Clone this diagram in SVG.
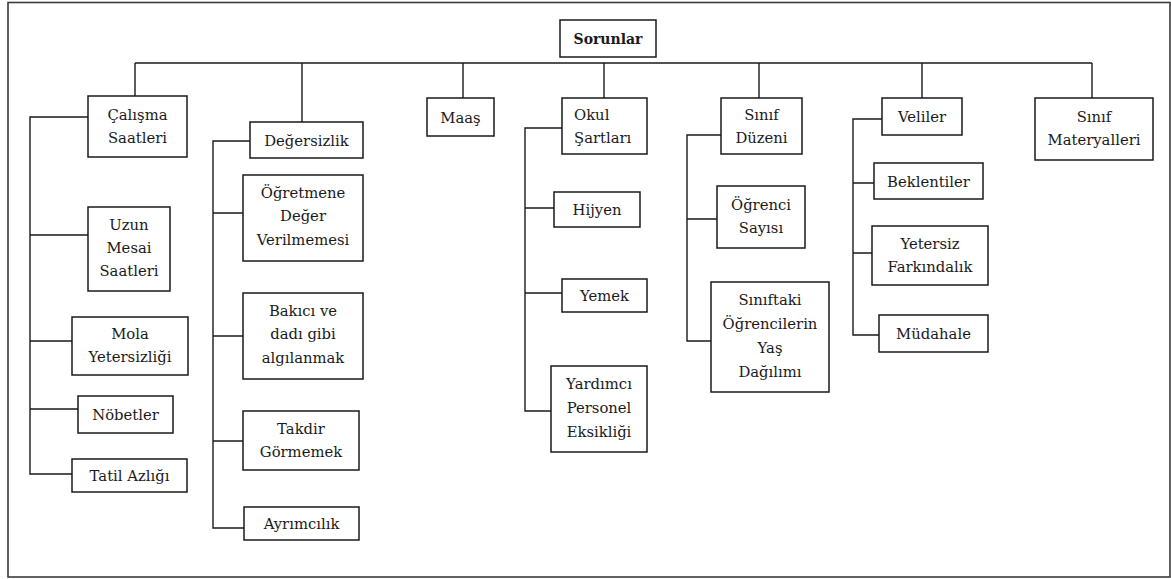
<svg xmlns="http://www.w3.org/2000/svg" width="1171" height="579" viewBox="0 0 1171 579">
<style>
.frame{fill:#fff;stroke:#3a3a3a;stroke-width:1.6}
.box{fill:#fff;stroke:#1a1a1a;stroke-width:1.5}
.con{fill:none;stroke:#1a1a1a;stroke-width:1.4}
text{font-family:"DejaVu Serif","Liberation Serif",serif;font-size:14.8px;fill:#1a1a1a;text-anchor:middle}
.b{font-weight:bold;font-size:14px}
.l{text-anchor:start}
</style>
<rect class="frame" x="8" y="2.5" width="1162" height="574.5"/>
<g id="connectors">
<path class="con" d="M135,63H1092M135,63V96M302,63V122M463,63V98M604,63V98M759,63V98M922,63V98M1092,63V98"/>
<path class="con" d="M88,117H30V474H72M30,235H88M30,341H72M30,409H78"/>
<path class="con" d="M250,141H213V528H244M213,213H243M213,336H243M213,441H243"/>
<path class="con" d="M562,128H525V411H551M525,208H554M525,293H562"/>
<path class="con" d="M721,135H687V341H711M687,219H717"/>
<path class="con" d="M882,119H853V335H879M853,183H874M853,253H872"/>
</g>
<g id="n-sorunlar"><rect class="box" x="560" y="20" width="96" height="37"/><text class="b" x="608" y="44">Sorunlar</text></g>
<g id="n-calisma"><rect class="box" x="88" y="96" width="99" height="61"/><text x="137.5" y="119.5">Çalışma</text><text x="137.5" y="143">Saatleri</text></g>
<g id="n-degersizlik"><rect class="box" x="250" y="122" width="113" height="36"/><text x="306.5" y="145.5">Değersizlik</text></g>
<g id="n-maas"><rect class="box" x="427" y="98" width="67" height="38"/><text x="460.5" y="122.5">Maaş</text></g>
<g id="n-okul"><rect class="box" x="562" y="98" width="85" height="56"/><text class="l" x="574" y="119.5">Okul</text><text class="l" x="574" y="143">Şartları</text></g>
<g id="n-sinifduzeni"><rect class="box" x="721" y="98" width="81" height="56"/><text x="761.5" y="119.5">Sınıf</text><text x="761.5" y="143">Düzeni</text></g>
<g id="n-veliler"><rect class="box" x="882" y="98" width="80" height="37"/><text x="922" y="122">Veliler</text></g>
<g id="n-materyal"><rect class="box" x="1035" y="98" width="118" height="62"/><text x="1094" y="121.5">Sınıf</text><text x="1094" y="145">Materyalleri</text></g>
<g id="n-uzun"><rect class="box" x="88" y="207" width="82" height="84"/><text x="129" y="229.5">Uzun</text><text x="129" y="252.5">Mesai</text><text x="129" y="275.5">Saatleri</text></g>
<g id="n-mola"><rect class="box" x="72" y="317" width="116" height="58"/><text x="130" y="338.5">Mola</text><text x="130" y="361.5">Yetersizliği</text></g>
<g id="n-nobetler"><rect class="box" x="78" y="396" width="95" height="37"/><text x="125.5" y="420">Nöbetler</text></g>
<g id="n-tatil"><rect class="box" x="72" y="459" width="115" height="33"/><text x="129.5" y="480.5">Tatil Azlığı</text></g>
<g id="n-ogretmene"><rect class="box" x="243" y="175" width="120" height="86"/><text x="303" y="197.5">Öğretmene</text><text x="303" y="221">Değer</text><text x="303" y="244.5">Verilmemesi</text></g>
<g id="n-bakici"><rect class="box" x="243" y="293" width="120" height="86"/><text x="303" y="315.5">Bakıcı ve</text><text x="303" y="339">dadı gibi</text><text x="303" y="362.5">algılanmak</text></g>
<g id="n-takdir"><rect class="box" x="243" y="411" width="116" height="59"/><text x="301" y="433.5">Takdir</text><text x="301" y="456.5">Görmemek</text></g>
<g id="n-ayrimcilik"><rect class="box" x="244" y="507" width="115" height="33"/><text x="301.5" y="528.5">Ayrımcılık</text></g>
<g id="n-hijyen"><rect class="box" x="554" y="192" width="86" height="35"/><text x="597" y="214.5">Hijyen</text></g>
<g id="n-yemek"><rect class="box" x="562" y="279" width="85" height="33"/><text x="604.5" y="300.5">Yemek</text></g>
<g id="n-yardimci"><rect class="box" x="551" y="366" width="96" height="86"/><text x="599" y="388.5">Yardımcı</text><text x="599" y="412.5">Personel</text><text x="599" y="436.5">Eksikliği</text></g>
<g id="n-ogrenci"><rect class="box" x="717" y="186" width="88" height="62"/><text x="761" y="209.5">Öğrenci</text><text x="761" y="232.5">Sayısı</text></g>
<g id="n-siniftaki"><rect class="box" x="711" y="282" width="118" height="110"/><text x="770" y="304.5">Sınıftaki</text><text x="770" y="328.5">Öğrencilerin</text><text x="770" y="352.5">Yaş</text><text x="770" y="376.5">Dağılımı</text></g>
<g id="n-beklentiler"><rect class="box" x="874" y="163" width="109" height="36"/><text x="928.5" y="186.5">Beklentiler</text></g>
<g id="n-yetersiz"><rect class="box" x="872" y="226" width="116" height="59"/><text x="930" y="248.5">Yetersiz</text><text x="930" y="271.5">Farkındalık</text></g>
<g id="n-mudahale"><rect class="box" x="879" y="315" width="109" height="37"/><text x="933.5" y="338.5">Müdahale</text></g>
</svg>
